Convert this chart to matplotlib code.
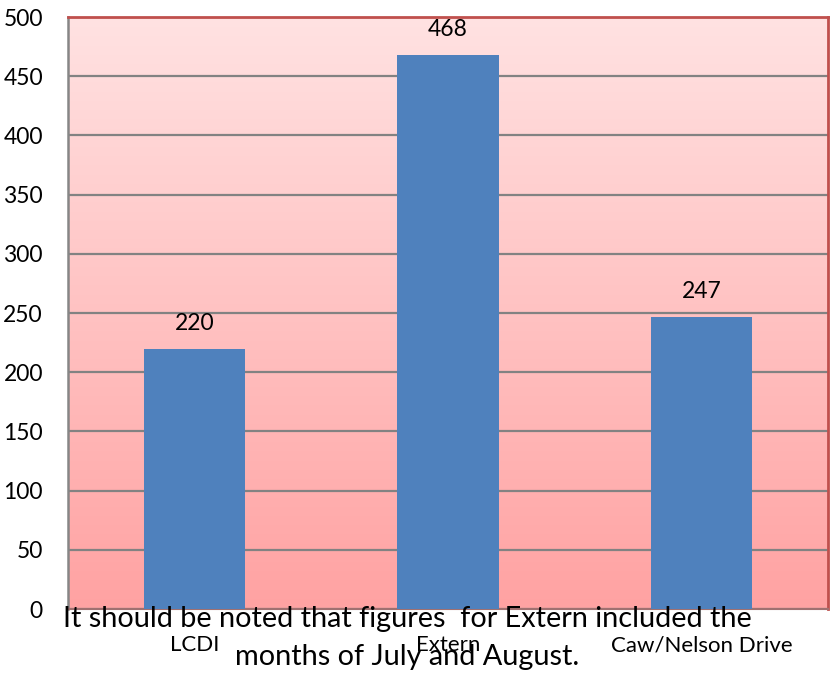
import matplotlib
matplotlib.use("Agg")
import matplotlib.pyplot as plt
import numpy as np
from matplotlib.colors import LinearSegmentedColormap

categories = ["LCDI", "Extern", "Caw/Nelson Drive"]
values = [220, 468, 247]
yticks = [0, 50, 100, 150, 200, 250, 300, 350, 400, 450, 500]
note = "It should be noted that figures  for Extern included the\nmonths of July and August."

plt.rcParams['font.family'] = ['Lato', 'DejaVu Sans']

fig = plt.figure(figsize=(8.36, 6.78), dpi=100)
ax = fig.add_axes([68/836, 1-609/678, (828-68)/836, (609-17)/678])

# gradient background
cmap = LinearSegmentedColormap.from_list("pinkgrad", ["#FFA2A2", "#FFE2E2"])
grad = np.linspace(0, 1, 256).reshape(-1, 1)
ax.imshow(grad, cmap=cmap, aspect='auto', extent=[0, 1, 0, 1], origin='lower',
          transform=ax.transAxes, zorder=0)

x = np.arange(len(categories))
ax.bar(x, values, width=0.4, color="#4F81BD", zorder=3)
ax.set_xlim(-0.5, 2.5)
ax.set_ylim(0, 500)
ax.set_yticks(yticks)
ax.set_yticklabels([str(t) for t in yticks], fontsize=16.5)
ax.set_xticks(x)
ax.set_xticklabels(categories, fontsize=16)
ax.tick_params(axis='y', length=0, pad=18)
ax.tick_params(axis='x', length=0, pad=19)
ax.yaxis.grid(True, color="#828282", linewidth=1.6, zorder=1)
ax.set_axisbelow(True)

for xi, v in zip(x, values):
    ax.annotate(str(v), (xi, v), xytext=(0, 13.5), textcoords='offset points',
                ha='center', va='baseline', fontsize=16.5, zorder=4)

ax.spines['left'].set_color("#868686")
ax.spines['left'].set_linewidth(1.8)
ax.spines['bottom'].set_color("#A07070")
ax.spines['bottom'].set_linewidth(1.5)
for s in ['top', 'right']:
    ax.spines[s].set_color("#C0504D")
    ax.spines[s].set_linewidth(2)

fig.text(407/836, 1-665/678, note, ha='center', va='baseline', fontsize=20.8,
         linespacing=1.57, multialignment='center', zorder=5)

fig.savefig("out.png", dpi=100)
